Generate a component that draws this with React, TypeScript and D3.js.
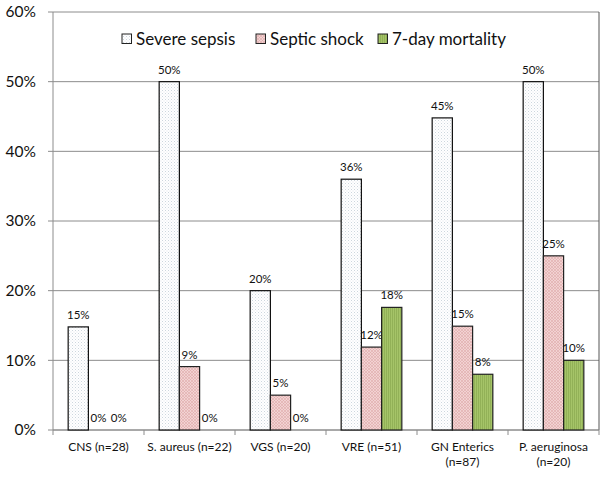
import React from "react";
import * as d3 from "d3";

const categories: string[][] = [
  ["CNS (n=28)"],
  ["S. aureus (n=22)"],
  ["VGS (n=20)"],
  ["VRE (n=51)"],
  ["GN Enterics", "(n=87)"],
  ["P. aeruginosa", "(n=20)"],
];
const seriesNames = ["Severe sepsis", "Septic shock", "7-day mortality"];
const severeSepsis = [0.148, 0.5, 0.2, 0.36, 0.448, 0.5];
const septicShock = [0, 0.091, 0.05, 0.119, 0.149, 0.25];
const mortality = [0, 0, 0, 0.176, 0.08, 0.1];
const yTicks = [0, 0.1, 0.2, 0.3, 0.4, 0.5, 0.6];

const W = 609;
const H = 477;
const left = 53;
const right = 599;
const top = 12;
const bottom = 430;
const font = "Lato, 'Open Sans', sans-serif";

export default function App() {
  const series = [severeSepsis, septicShock, mortality];
  const fills = ["url(#patWhite)", "url(#patPink)", "url(#patGreen)"];
  const strokes = ["#111", "#222", "#222"];
  const x = d3
    .scaleBand<number>()
    .domain(categories.map((_, i) => i))
    .range([left, right])
    .paddingInner(0)
    .paddingOuter(0);
  const xs = d3
    .scaleBand<number>()
    .domain([0, 1, 2])
    .range([0, x.bandwidth()])
    .paddingInner(0)
    .paddingOuter(0.75);
  const y = d3.scaleLinear().domain([0, 0.6]).range([bottom, top]);
  const fmt = (v: number) => `${Math.round(v * 100)}%`;

  const legendX = [122, 256, 378];

  return (
    <svg
      width={W}
      height={H}
      style={{ position: "absolute", left: 0, top: 0, background: "#fff" }}
      fontFamily={font}
    >
      <defs>
        <pattern id="patWhite" width="3" height="3" patternUnits="userSpaceOnUse">
          <rect width="3" height="3" fill="#ffffff" />
          <rect x="0" y="0" width="1" height="1" fill="#cdd6de" />
          <rect x="1.5" y="1.5" width="1" height="1" fill="#e0e6eb" />
        </pattern>
        <pattern id="patPink" width="3" height="3" patternUnits="userSpaceOnUse">
          <rect width="3" height="3" fill="#f2d2d2" />
          <path d="M0,0 L3,3 M3,0 L0,3" stroke="#dea9a9" strokeWidth="0.6" />
        </pattern>
        <pattern id="patGreen" width="2" height="2" patternUnits="userSpaceOnUse">
          <rect width="2" height="2" fill="#a5c468" />
          <rect x="0" y="0" width="0.8" height="2" fill="#8dac52" />
        </pattern>
      </defs>

      {yTicks.map((t) => (
        <line
          key={`g${t}`}
          x1={left}
          x2={right}
          y1={y(t)}
          y2={y(t)}
          stroke="#8c8c8c"
          strokeWidth={1}
        />
      ))}
      {yTicks.map((t) => (
        <g key={`yt${t}`}>
          <line x1={left - 5} x2={left} y1={y(t)} y2={y(t)} stroke="#8c8c8c" />
          <text
            x={36}
            y={y(t)}
            dy="0.35em"
            textAnchor="end"
            fontSize={15.5}
            fill="#111"
          >
            {fmt(t)}
          </text>
        </g>
      ))}
      <line x1={left} x2={left} y1={top} y2={bottom} stroke="#8c8c8c" />
      <line x1={right} x2={right} y1={top} y2={bottom} stroke="#555" />
      <line x1={left} x2={right} y1={bottom} y2={bottom} stroke="#8c8c8c" />
      {categories.map((_, i) => (
        <line
          key={`xt${i}`}
          x1={x(i)!}
          x2={x(i)!}
          y1={bottom}
          y2={bottom + 5}
          stroke="#8c8c8c"
        />
      ))}
      <line x1={right} x2={right} y1={bottom} y2={bottom + 5} stroke="#8c8c8c" />

      {categories.map((_, i) =>
        series.map((vals, s) => {
          const v = vals[i];
          const bx = x(i)! + xs(s)!;
          const bw = xs.bandwidth();
          return (
            <g key={`b${i}-${s}`}>
              {v > 0 && (
                <rect
                  x={bx}
                  y={y(v)}
                  width={bw}
                  height={y(0) - y(v)}
                  fill={fills[s]}
                  stroke={strokes[s]}
                  strokeWidth={1.2}
                />
              )}
              <text
                x={bx + bw / 2}
                y={y(v) - 8}
                textAnchor="middle"
                fontSize={11.5}
                fill="#111"
              >
                {fmt(v)}
              </text>
            </g>
          );
        })
      )}

      {categories.map((lines, i) => (
        <text
          key={`xl${i}`}
          x={x(i)! + x.bandwidth() / 2}
          y={451}
          textAnchor="middle"
          fontSize={12}
          fill="#111"
        >
          {lines.map((l, k) => (
            <tspan key={k} x={x(i)! + x.bandwidth() / 2} dy={k === 0 ? 0 : 15}>
              {l}
            </tspan>
          ))}
        </text>
      ))}

      {seriesNames.map((name, s) => (
        <g key={`lg${s}`}>
          <rect
            x={legendX[s]}
            y={34}
            width={9.5}
            height={9.5}
            fill={fills[s]}
            stroke="#222"
            strokeWidth={1}
          />
          <text x={legendX[s] + 14} y={39} dy="0.35em" fontSize={17} fill="#111">
            {name}
          </text>
        </g>
      ))}
    </svg>
  );
}
